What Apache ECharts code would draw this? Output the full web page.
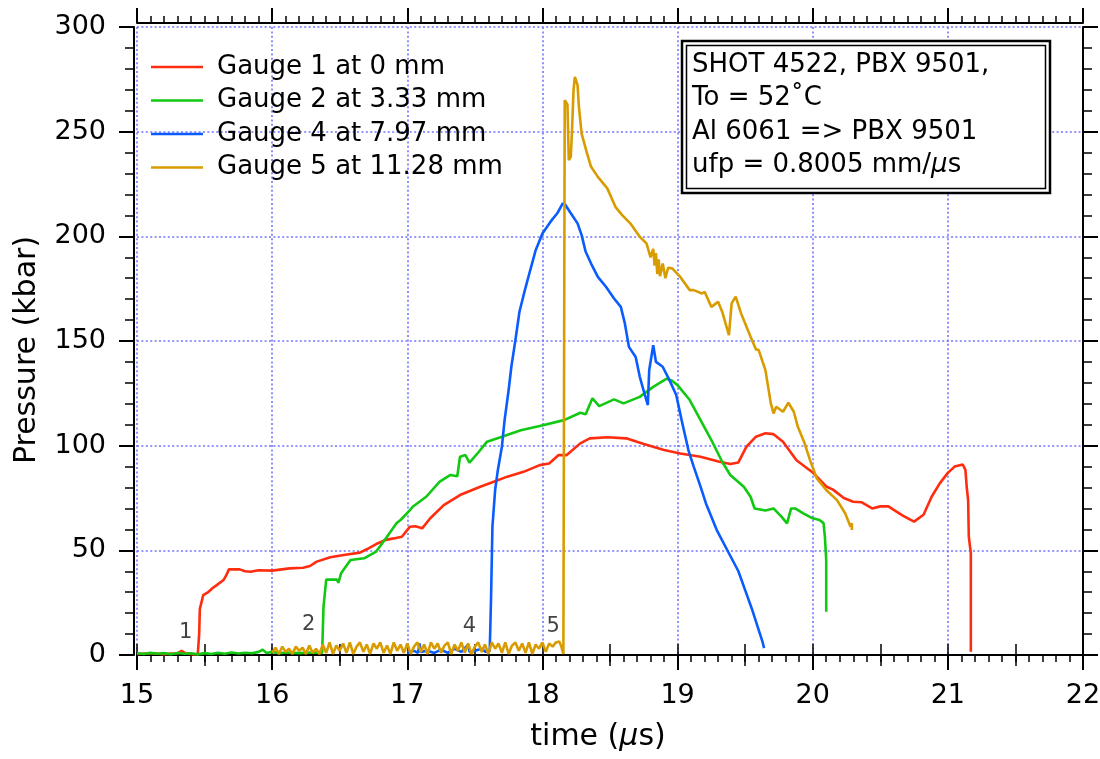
<!DOCTYPE html>
<html>
<head>
<meta charset="utf-8">
<script src="https://cdn.jsdelivr.net/npm/echarts/dist/echarts.min.js"></script>
<style>html,body{margin:0;padding:0;background:#fff}#chart{width:1100px;height:759px}</style>
</head>
<body>
<div id="chart"></div>
<script>
// ---------- data ----------
const seriesNames = ['Gauge 1 at 0 mm', 'Gauge 2 at 3.33 mm', 'Gauge 4 at 7.97 mm', 'Gauge 5 at 11.28 mm'];
const seriesColors = ['#ff2d0f', '#12c812', '#0a5cff', '#d99c00'];

const xRange = [15, 22];   // time (µs)
const yRange = [0, 300];   // pressure (kbar)

const g1T = [15.00,15.10,15.20,15.30,15.33,15.36,15.42,15.45,15.46,15.465,15.49,15.53,15.56,15.59,15.64,15.66,15.68,15.76,15.80,15.84,15.90,16.00,16.13,16.23,16.28,16.33,16.43,16.53,16.65,16.70,16.77,16.84,16.90,16.96,17.02,17.06,17.11,17.17,17.27,17.39,17.54,17.64,17.74,17.86,17.98,18.05,18.12,18.18,18.28,18.35,18.48,18.62,18.75,18.90,19.02,19.17,19.31,19.39,19.45,19.51,19.58,19.65,19.71,19.78,19.88,20.00,20.10,20.15,20.23,20.30,20.36,20.44,20.50,20.56,20.62,20.67,20.75,20.82,20.88,20.94,21.00,21.05,21.11,21.13,21.14,21.15,21.155,21.17,21.17,21.17];
const g1P = [0.5,0.8,0.4,0.8,2.0,0.8,0.3,0.5,10,22,28.6,30.2,32,33.4,35.8,38,40.9,40.9,40,39.8,40.5,40.3,41.4,41.7,42.5,44.6,46.7,47.8,48.9,50.5,53,55,55.7,56.5,61.3,61.5,60.5,65.3,71.6,76.4,80.4,82.8,85.2,87.5,90.7,91.5,95.5,95.5,101.1,103.5,104,103.5,100.8,97.9,96.3,94.7,92.3,91.2,92,99.5,104.3,105.9,105.5,101.9,93,87.2,80.5,79,75,73.2,73,70,71,71,68.5,66.5,63.7,67,75.6,82,87,90,91,88.4,80,74,56.5,48.7,32.6,1.6];

const g2T = [15.00,15.05,15.10,15.15,15.20,15.25,15.30,15.35,15.40,15.45,15.50,15.55,15.60,15.65,15.70,15.75,15.80,15.85,15.90,15.93,15.96,16.00,16.05,16.10,16.20,16.30,16.37,16.38,16.40,16.48,16.49,16.51,16.58,16.68,16.77,16.85,16.92,16.95,17.02,17.04,17.14,17.24,17.32,17.37,17.39,17.43,17.46,17.53,17.59,17.69,17.84,17.98,18.16,18.28,18.32,18.37,18.42,18.53,18.60,18.72,18.82,18.92,18.96,19.00,19.09,19.17,19.25,19.33,19.39,19.49,19.54,19.57,19.65,19.71,19.77,19.81,19.84,19.87,19.93,20.00,20.05,20.08,20.09,20.10,20.10];
const g2P = [0.8,0.5,1.0,0.6,0.9,0.4,1.0,0.6,0.8,0.3,0.9,0.5,1.0,0.6,1.2,0.7,1.1,0.8,1.5,2.5,1.0,1.5,0.8,1.2,0.9,1.2,1.0,23,36,36,34.5,39,45.4,46.2,49.4,56.5,62.9,64.5,69.2,70.8,75.6,82.8,86,85.4,94.7,95.5,91.9,97.1,101.9,104,107.4,109.4,112.2,115.7,115,122.6,118.9,122.1,120.2,123.3,128.1,132,131,128.9,121.8,112.2,102.7,92.3,86,80.4,75.6,70,69,70,66,62.9,70,70,67.7,65.3,64.5,63,56.5,45.4,20.7];

const g4T = [17.00,17.05,17.08,17.09,17.10,17.15,17.20,17.25,17.30,17.35,17.40,17.45,17.46,17.50,17.55,17.58,17.61,17.62,17.63,17.65,17.67,17.70,17.72,17.75,17.77,17.80,17.83,17.87,17.91,17.95,18.00,18.06,18.11,18.15,18.17,18.21,18.26,18.29,18.32,18.36,18.41,18.47,18.53,18.58,18.61,18.64,18.69,18.72,18.75,18.78,18.79,18.82,18.84,18.89,18.94,18.99,19.03,19.08,19.12,19.17,19.21,19.29,19.38,19.45,19.50,19.55,19.60,19.63,19.64];
const g4P = [1.0,2.0,1.0,5.5,1.5,2,1,2.5,1,3,1.5,5,1.5,2,3,1.5,2,27.8,61.3,78.8,88.3,99.5,112.2,126.6,137.7,150.4,164,174.3,183.9,193.4,201.4,207,211,215.7,215,211,206.2,200.6,192.6,187,180.6,175.9,170.3,166.3,158.4,147.2,142.4,133,126,119.4,136,148,140,137.7,131.3,124.2,112.2,97.9,89.9,80.4,72.4,59.7,48.6,40,31,22,12,6,3.3];

const g5T = [16.000,16.025,16.050,16.075,16.100,16.125,16.150,16.175,16.200,16.225,16.250,16.275,16.300,16.325,16.350,16.375,16.400,16.425,16.450,16.475,16.500,16.525,16.550,16.575,16.600,16.625,16.650,16.675,16.700,16.725,16.750,16.775,16.800,16.825,16.850,16.875,16.900,16.925,16.950,16.975,17.000,17.025,17.050,17.075,17.100,17.125,17.150,17.175,17.200,17.225,17.250,17.275,17.300,17.325,17.350,17.375,17.400,17.425,17.450,17.475,17.500,17.525,17.550,17.575,17.600,17.625,17.650,17.675,17.700,17.725,17.750,17.775,17.800,17.825,17.850,17.875,17.900,17.925,17.950,17.975,18.000,18.025,18.050,18.075,18.100,18.125,
  18.14,18.155,18.165,18.185,18.195,18.21,18.22,18.23,18.24,18.26,18.27,18.29,18.33,18.36,18.41,18.48,18.54,18.59,18.65,18.72,18.77,18.80,18.82,18.83,18.84,18.85,18.86,18.87,18.89,18.91,18.93,18.96,19.02,19.09,19.12,19.18,19.20,19.25,19.30,19.33,19.38,19.40,19.43,19.47,19.51,19.54,19.58,19.60,19.65,19.69,19.71,19.73,19.78,19.82,19.86,19.89,19.94,19.98,20.03,20.10,20.18,20.24,20.28,20.29,20.29];
const g5P = [1,3.5,0.5,4,1.5,3,0.5,4,2,3.5,0.5,4.5,1,3,0.5,
  5,1,6,0.5,4.5,2,5.5,1,6,0.5,
  4,6,1.5,5,0.5,5.5,3,6,1,4.5,
  0.5,6,2,5,1,5.5,0.5,4,6,1.5,
  5,0.5,6,3,5.5,1,4.5,6,0.5,5,
  2,6,1,5.5,0.5,4,6,1.5,5,0.5,
  6,3,5.5,1,6,0.5,4.5,6,2,5.5,
  1,6,0.5,5,3,6,1.5,5.5,4,6,6.5,
  4,0.5,265,263,236.4,238,252.3,269.8,276.2,272.2,261.8,249.1,239.6,233.2,228.4,222.9,214.1,210.1,206.2,199.8,196.6,190,194,186,192,182,189,181,187,180,185,184.7,180.6,174.3,174.3,172.7,173.5,166.3,168.7,164,152.8,168,171.2,163.2,156.8,152,146,145.7,136.1,120.2,115.4,118.6,116.2,120.5,116.2,109,101.1,93.1,84.4,78.8,74,67.7,61.3,62.9,59.7];

// gauge markers near the baseline
const noteT = [15.36, 16.27, 17.46, 18.08];
const noteP = [10.7, 14.7, 13.7, 13.4];
const noteText = ['1', '2', '4', '5'];

// info box lines
const infoLines = ['SHOT 4522, PBX 9501,', 'To = 52˚C', 'Al 6061 => PBX 9501'];

// ---------- chart ----------
const F = 'DejaVu Sans';
const pairs = (t, p) => t.map((x, i) => [x, p[i]]);
const gridLine = {show: true, lineStyle: {color: '#7373ff', width: 1.6, type: [2, 2.4]}};
const blk = '#000';

function xAx(opts) {
  return Object.assign({
    type: 'value', min: xRange[0], max: xRange[1], interval: 1,
    axisLine: {show: true, onZero: false, lineStyle: {color: blk, width: 2}},
    axisTick: {show: true, length: 15, lineStyle: {color: blk, width: 2}},
    minorTick: {show: true, splitNumber: 10, length: 7, lineStyle: {color: blk, width: 1.5}},
    axisLabel: {show: false},
    splitLine: {show: false}
  }, opts);
}
function yAx(opts) {
  return Object.assign({
    type: 'value', min: yRange[0], max: yRange[1], interval: 50,
    axisLine: {show: true, onZero: false, lineStyle: {color: blk, width: 2}},
    axisTick: {show: true, length: 15, lineStyle: {color: blk, width: 2}},
    minorTick: {show: true, splitNumber: 5, length: 9, lineStyle: {color: blk, width: 1.5}},
    axisLabel: {show: false},
    splitLine: {show: false}
  }, opts);
}

const series = seriesNames.map((name, i) => ({
  name, type: 'line',
  data: pairs([g1T, g2T, g4T, g5T][i], [g1P, g2P, g4P, g5P][i]),
  symbol: 'none', showSymbol: false,
  lineStyle: {color: seriesColors[i], width: 2.6},
  itemStyle: {color: seriesColors[i]},
  xAxisIndex: 0, yAxisIndex: 0, z: 2 + i, animation: false
}));
series.push({
  type: 'scatter', name: 'notes',
  data: noteT.map((t, i) => [t, noteP[i]]),
  symbol: 'circle', symbolSize: 1, itemStyle: {color: 'rgba(0,0,0,0)'}, silent: true, z: 10,
  label: {show: true, position: 'inside', formatter: p => noteText[p.dataIndex],
          fontFamily: F, fontSize: 21, color: '#111'},
  labelLayout: {hideOverlap: false},
  xAxisIndex: 0, yAxisIndex: 0, animation: false
});

const chart = echarts.init(document.getElementById('chart'), null, {renderer: 'canvas'});
chart.setOption({
  animation: false,
  backgroundColor: '#fff',
  textStyle: {fontFamily: F},
  grid: {left: 137, top: 27, right: 17, bottom: 104, outerBoundsMode: 'none', containLabel: false},
  xAxis: [
    xAx({position: 'bottom', axisLabel: {show: true, fontSize: 27, color: blk, fontFamily: F, margin: 27}, splitLine: gridLine}),
    xAx({position: 'top', offset: 4}),
    xAx({position: 'bottom', interval: 0.5, axisLine: {show: false}, axisTick: {show: true, length: 11, lineStyle: {color: blk, width: 1.5}}, minorTick: {show: false}}),
    xAx({position: 'top', offset: 4, interval: 0.5, axisLine: {show: false}, axisTick: {show: true, length: 11, lineStyle: {color: blk, width: 1.5}}, minorTick: {show: false}})
  ],
  yAxis: [
    yAx({position: 'left', offset: 3, axisLabel: {show: true, fontSize: 27, color: blk, fontFamily: F, margin: 28}, splitLine: gridLine}),
    yAx({position: 'right'})
  ],
  legend: {
    show: true, orient: 'vertical', left: 146, top: 47,
    data: seriesNames, icon: 'rect', itemWidth: 52, itemHeight: 2.5, itemGap: 3.5,
    textStyle: {fontFamily: F, fontSize: 26, color: blk, lineHeight: 30, padding: [0, 0, 0, 9]},
    selectedMode: false
  },
  graphic: [
    {type: 'rect', z: 100, shape: {x: 682, y: 41, width: 368, height: 152}, style: {fill: '#fff', stroke: blk, lineWidth: 2.5}},
    {type: 'rect', z: 101, shape: {x: 686.5, y: 45.5, width: 359, height: 143}, style: {fill: 'none', stroke: blk, lineWidth: 1.5}},
    ...infoLines.map((s, i) => ({type: 'text', z: 102, left: 692, top: 67 + i * 33.5 - 15,
      style: {text: s, font: '26px "DejaVu Sans"', fill: blk}})),
    {type: 'text', z: 102, left: 692, top: 167.5 - 15,
      style: {text: '{n|ufp = 0.8005 mm/}{i|µ}{n|s}', rich: {n: {font: '26px "DejaVu Sans"', fill: blk}, i: {font: 'italic 26px "DejaVu Sans"', fill: blk}}}},
    {type: 'text', z: 50, x: 27, y: 350, rotation: Math.PI / 2,
      style: {text: 'Pressure (kbar)', font: '30px "DejaVu Sans"', fill: blk, align: 'center', verticalAlign: 'middle'}},
    {type: 'text', z: 50, x: 598, y: 737,
      style: {text: '{n|time (}{i|µ}{n|s)}', align: 'center', verticalAlign: 'middle', rich: {n: {font: '30px "DejaVu Sans"', fill: blk}, i: {font: 'italic 30px "DejaVu Sans"', fill: blk}}}}
  ],
  series
});
</script>
</body>
</html>
